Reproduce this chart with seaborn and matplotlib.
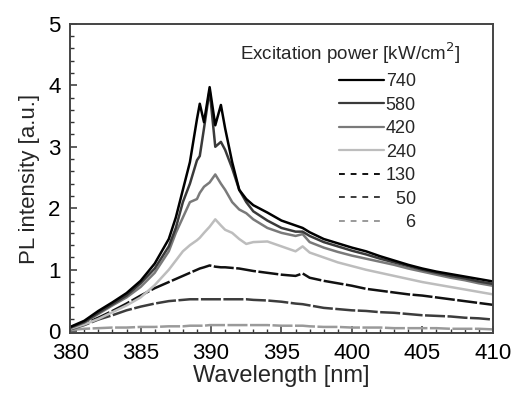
import seaborn as sns
import matplotlib.pyplot as plt
import pandas as pd
from matplotlib.lines import Line2D

# wavelength grid [nm] and PL intensities
wavelength = [380, 381, 382, 383, 384, 385, 386, 387, 387.5, 388, 388.5, 389, 389.2, 389.5,
              389.9, 390.3, 390.7, 391, 391.5, 392, 392.5, 393, 394, 395, 396, 396.5, 397,
              398, 399, 400, 401, 402, 403, 404, 405, 406, 407, 408, 409, 410]

p740 = [0.07, 0.17, 0.33, 0.47, 0.62, 0.82, 1.1, 1.5, 1.85, 2.3, 2.75, 3.45, 3.7, 3.4,
        3.97, 3.35, 3.68, 3.3, 2.75, 2.3, 2.15, 2.05, 1.93, 1.8, 1.72, 1.68, 1.61,
        1.5, 1.43, 1.36, 1.3, 1.22, 1.15, 1.08, 1.02, 0.97, 0.93, 0.89, 0.85, 0.81]
p580 = [0.06, 0.15, 0.3, 0.44, 0.58, 0.78, 1.02, 1.38, 1.68, 2.1, 2.4, 2.78, 2.85, 3.3,
        3.92, 3.0, 3.08, 2.95, 2.65, 2.3, 2.1, 1.95, 1.8, 1.68, 1.62, 1.62, 1.55,
        1.45, 1.38, 1.31, 1.25, 1.18, 1.12, 1.06, 1.0, 0.95, 0.9, 0.86, 0.81, 0.77]
p420 = [0.05, 0.14, 0.28, 0.42, 0.55, 0.72, 0.95, 1.3, 1.6, 1.85, 2.1, 2.15, 2.25, 2.35,
        2.42, 2.55, 2.4, 2.3, 2.1, 1.98, 1.92, 1.82, 1.68, 1.6, 1.55, 1.58, 1.45,
        1.36, 1.29, 1.23, 1.18, 1.13, 1.08, 1.02, 0.97, 0.92, 0.87, 0.83, 0.78, 0.74]
p240 = [0.04, 0.11, 0.2, 0.31, 0.42, 0.55, 0.75, 1.0, 1.15, 1.3, 1.4, 1.48, 1.52, 1.6,
        1.7, 1.82, 1.72, 1.65, 1.6, 1.5, 1.42, 1.45, 1.46, 1.38, 1.3, 1.38, 1.28,
        1.2, 1.12, 1.06, 1.0, 0.95, 0.9, 0.85, 0.8, 0.76, 0.72, 0.68, 0.64, 0.6]
p130 = [0.05, 0.12, 0.22, 0.33, 0.45, 0.58, 0.7, 0.8, 0.85, 0.9, 0.95, 1.0, 1.02, 1.04,
        1.07, 1.05, 1.04, 1.04, 1.03, 1.02, 1.0, 0.98, 0.95, 0.92, 0.9, 0.94, 0.87,
        0.82, 0.78, 0.74, 0.69, 0.66, 0.63, 0.6, 0.58, 0.55, 0.52, 0.49, 0.46, 0.43]
p50 = [0.03, 0.1, 0.19, 0.26, 0.34, 0.4, 0.45, 0.49, 0.5, 0.51, 0.52, 0.52, 0.52, 0.52,
       0.52, 0.52, 0.52, 0.52, 0.52, 0.52, 0.52, 0.51, 0.5, 0.48, 0.45, 0.44, 0.42,
       0.38, 0.36, 0.34, 0.33, 0.31, 0.3, 0.28, 0.26, 0.25, 0.24, 0.22, 0.21, 0.19]
p6 = [0.02, 0.04, 0.05, 0.06, 0.06, 0.07, 0.07, 0.08, 0.08, 0.08, 0.09, 0.09, 0.09, 0.09,
      0.1, 0.1, 0.1, 0.1, 0.1, 0.1, 0.1, 0.1, 0.1, 0.09, 0.09, 0.09, 0.08,
      0.07, 0.07, 0.06, 0.06, 0.06, 0.05, 0.05, 0.05, 0.05, 0.04, 0.04, 0.04, 0.03]

powers = ['740', '580', '420', '240', '130', '50', '6']
series = [p740, p580, p420, p240, p130, p50, p6]
colors = ['#000000', '#3a3a3a', '#7a7a7a', '#bdbdbd', '#111111', '#3c3c3c', '#9a9a9a']
solid = [True, True, True, True, False, False, False]

rows = []
for p, vals in zip(powers, series):
    for w, v in zip(wavelength, vals):
        rows.append({'wavelength': w, 'intensity': v, 'power': p})
df = pd.DataFrame(rows)

sns.set_style('ticks')
plt.rcParams['font.family'] = ['Liberation Sans', 'DejaVu Sans']

fig = plt.figure(figsize=(5.16, 3.97), dpi=100)
ax = fig.add_axes([0.136, 0.161, 0.819, 0.779])

palette = dict(zip(powers, colors))
dashes = {p: '' if s else (8, 1) for p, s in zip(powers, solid)}
sns.lineplot(data=df, x='wavelength', y='intensity', hue='power', style='power',
             palette=palette, dashes=dashes, hue_order=powers[::-1], linewidth=1.8,
             legend=False, ax=ax)

ax.set_xlim(380, 410)
ax.set_ylim(-0.03, 5)
ax.set_xticks(range(380, 411, 5))
ax.set_xticks(range(380, 411, 1), minor=True)
ax.set_yticks(range(0, 6))
ax.set_yticks([i * 0.2 for i in range(26)], minor=True)
ax.tick_params(which='major', direction='in', length=5, width=1.1, labelsize=16, pad=7,
               colors='#333333', labelcolor='black')
ax.tick_params(which='minor', direction='in', length=3, width=1, colors='#333333')
for s in ax.spines.values():
    s.set_color('#444444')
    s.set_linewidth(1.4)
ax.set_xlabel('Wavelength [nm]', fontsize=17, labelpad=1)
ax.set_ylabel('PL intensity [a.u.]', fontsize=16, labelpad=6)

# legend: title placed as its own text, entries right-aligned below it
ax.text(0.922, 0.905, 'Excitation power [kW/cm$^2$]', transform=ax.transAxes,
        ha='right', va='center', fontsize=13.5)
handles = [Line2D([], [], color=c, lw=1.6 if s else 1.4, ls='-' if s else (0, (3, 3)))
           for c, s in zip(colors, solid)]
labels = ['740', '580', '420', '240', '130', '  50', '    6']
ax.legend(handles, labels, loc='upper right', frameon=False, fontsize=13,
          handlelength=2.5, handletextpad=0.1, labelspacing=0.36, borderaxespad=0,
          borderpad=0, bbox_to_anchor=(0.818, 0.84))

fig.savefig('out.png', dpi=100)
